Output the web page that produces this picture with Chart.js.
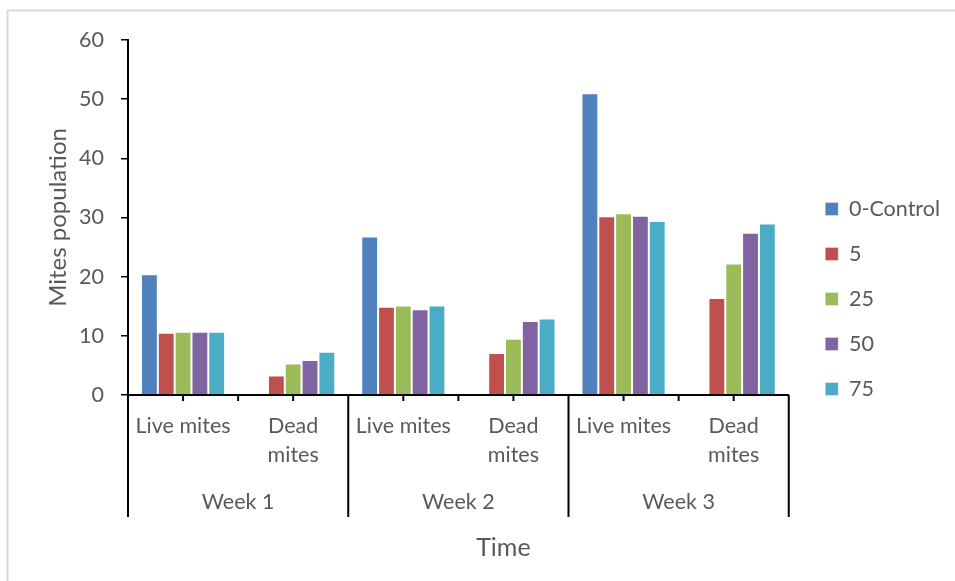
<!DOCTYPE html>
<html>
<head>
<meta charset="utf-8">
<title>Mites population over time</title>
<script src="https://cdn.jsdelivr.net/npm/chart.js@4"></script>
<style>
  html, body { margin: 0; padding: 0; background: #ffffff; }
  #wrap { width: 955px; height: 581px; position: relative; }
</style>
</head>
<body>
<div id="wrap"><canvas id="chart" width="955" height="581"></canvas></div>
<script>
// Sub-categories under each week (inner axis level)
const categories = ['Live mites', ['Dead', 'mites'], 'Live mites', ['Dead', 'mites'], 'Live mites', ['Dead', 'mites']];
// Outer axis level
const weeks = ['Week 1', 'Week 2', 'Week 3'];
const seriesNames = ['0-Control', '5', '25', '50', '75'];
const xTitle = 'Time';

// Values per treatment: [W1 live, W1 dead, W2 live, W2 dead, W3 live, W3 dead]
const control = [20.4, 0, 26.8, 0, 51.0, 0];
const dose5   = [10.5, 3.3, 14.9, 7.1, 30.2, 16.4];
const dose25  = [10.7, 5.3, 15.1, 9.5, 30.7, 22.2];
const dose50  = [10.7, 5.9, 14.5, 12.5, 30.3, 27.4];
const dose75  = [10.7, 7.3, 15.1, 12.9, 29.4, 29.0];

const yTicks = [0, 10, 20, 30, 40, 50, 60];

const colors = ['#4F81BD', '#C0504D', '#9BBB59', '#8064A2', '#4BACC6'];
const seriesValues = [control, dose5, dose25, dose50, dose75];

const FONT = 'Lato, "Open Sans", sans-serif';
const TEXT = '#595959';

// Light frame around the whole figure
const framePlugin = {
  id: 'frame',
  beforeDraw(chart) {
    const ctx = chart.ctx;
    ctx.save();
    ctx.strokeStyle = '#d9d9d9';
    ctx.lineWidth = 2;
    ctx.beginPath();
    ctx.moveTo(7.5, chart.height);
    ctx.lineTo(7.5, 10.5);
    ctx.lineTo(chart.width, 10.5);
    ctx.stroke();
    ctx.restore();
  }
};

// Two-level category axis: short ticks inside each week, long dividers between
// weeks, and the axis title underneath
const groupAxisPlugin = {
  id: 'groupAxis',
  afterDraw(chart) {
    const x = chart.scales.x;
    const ctx = chart.ctx;
    const area = chart.chartArea;
    const top = area.bottom;
    const longEnd = top + 122;
    const shortEnd = top + 6;
    const n = categories.length;
    const perGroup = n / weeks.length;
    ctx.save();
    ctx.strokeStyle = '#000000';
    ctx.lineWidth = 2;
    ctx.beginPath();
    [area.left, area.right].forEach(px => {
      ctx.moveTo(px, top);
      ctx.lineTo(px, longEnd);
    });
    for (let i = 0; i < n; i++) {
      const c = x.getPixelForValue(i);
      ctx.moveTo(c, top);
      ctx.lineTo(c, shortEnd);
      if (i < n - 1) {
        const b = (c + x.getPixelForValue(i + 1)) / 2;
        ctx.moveTo(b, top);
        ctx.lineTo(b, (i + 1) % perGroup === 0 ? longEnd : shortEnd);
      }
    }
    ctx.stroke();

    // axis title
    ctx.fillStyle = TEXT;
    ctx.font = '25px ' + FONT;
    ctx.textAlign = 'center';
    ctx.textBaseline = 'middle';
    ctx.fillText(xTitle, (area.left + area.right) / 2 + 45, top + 153);
    ctx.restore();
  }
};

// Nudge the legend block into place beside the plot
const legendPlacePlugin = {
  id: 'legendPlace',
  afterLayout(chart) {
    const lg = chart.legend;
    if (!lg) return;
    const dx = 13, dy = 20;
    lg.left += dx; lg.right += dx;
    lg.top += dy; lg.bottom += dy;
  }
};

const datasets = seriesNames.map((name, i) => ({
  label: name,
  data: seriesValues[i],
  backgroundColor: colors[i],
  borderColor: 'rgba(255,255,255,0.35)',
  borderWidth: 1,
  categoryPercentage: 0.764,
  barPercentage: 1.0
}));

new Chart(document.getElementById('chart'), {
  type: 'bar',
  data: { labels: categories, datasets },
  plugins: [framePlugin, groupAxisPlugin, legendPlacePlugin],
  options: {
    responsive: false,
    animation: false,
    layout: { padding: { top: 40, right: 18, bottom: 63, left: 0 } },
    plugins: {
      tooltip: { enabled: false },
      legend: {
        position: 'right',
        align: 'center',
        labels: {
          boxWidth: 13,
          boxHeight: 13,
          padding: 23.5,
          color: TEXT,
          font: { family: FONT, size: 21.5 }
        }
      }
    },
    scales: {
      y: {
        min: 0,
        max: 60,
        afterBuildTicks(scale) { scale.ticks = yTicks.map(v => ({ value: v })); },
        afterFit(scale) { scale.width = 128; },
        grid: { drawOnChartArea: false, drawTicks: true, tickLength: 7, color: '#000000', lineWidth: 1.5 },
        border: { display: true, color: '#000000', width: 2 },
        ticks: { color: TEXT, padding: 17, font: { family: FONT, size: 21.5 } },
        title: {
          display: true,
          text: 'Mites population',
          color: TEXT,
          padding: { top: 43.6, bottom: 0 },
          font: { family: FONT, size: 24 }
        }
      },
      x: {
        weight: 0,
        offset: true,
        grid: { display: false, drawTicks: false },
        border: { display: true, color: '#000000', width: 2 },
        ticks: {
          color: TEXT,
          padding: 16.5,
          maxRotation: 0,
          autoSkip: false,
          font: { family: FONT, size: 21.5, lineHeight: 1.35 }
        }
      },
      x2: {
        type: 'category',
        labels: weeks,
        position: 'bottom',
        weight: 1,
        offset: true,
        grid: { display: false, drawTicks: false },
        border: { display: false },
        ticks: {
          color: TEXT,
          padding: 1.5,
          maxRotation: 0,
          font: { family: FONT, size: 21.5, lineHeight: 1.35 }
        }
      }
    }
  }
});
</script>
</body>
</html>
